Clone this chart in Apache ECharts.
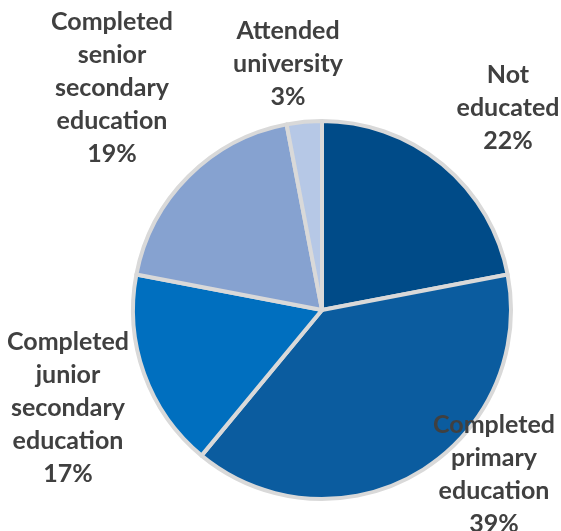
<!DOCTYPE html>
<html>
<head>
<meta charset="utf-8">
<script src="https://cdn.jsdelivr.net/npm/echarts@6/dist/echarts.min.js"></script>
<style>
  html, body { margin: 0; padding: 0; background: #fff; }
  #chart { width: 561px; height: 531px; }
</style>
</head>
<body>
<div id="chart"></div>
<script>
// Education attainment shares, clockwise from 12 o'clock
const categories = [
  'Not\neducated',
  'Completed\nprimary\neducation',
  'Completed\njunior\nsecondary\neducation',
  'Completed\nsenior\nsecondary\neducation',
  'Attended\nuniversity'
];
const shares = [22, 39, 17, 19, 3];
const sliceColors = ['#004b88', '#0b5c9f', '#006fbf', '#86a2d0', '#b6c8e6'];

// Label block centres (px) for each slice, same order as categories
const labelAnchors = [
  [508, 108],
  [494, 474],
  [68, 408],
  [112, 88],
  [288, 64]
];

const chart = echarts.init(document.getElementById('chart'), null, { renderer: 'canvas' });
chart.setOption({
  animation: false,
  series: [{
    type: 'pie',
    center: [322, 310],
    radius: 189,
    startAngle: 90,
    clockwise: true,
    data: categories.map((name, i) => ({
      name: name,
      value: shares[i],
      itemStyle: { color: sliceColors[i] }
    })),
    itemStyle: { borderColor: '#d9d9d9', borderWidth: 4 },
    label: {
      show: true,
      position: 'outside',
      formatter: '{b}\n{d}%',
      color: '#404040',
      fontFamily: 'Lato',
      fontWeight: 'bold',
      fontSize: 25,
      lineHeight: 33,
      align: 'center',
      overflow: 'none',
      width: 200
    },
    labelLine: { show: false },
    labelLayout: function (params) {
      const a = labelAnchors[params.dataIndex];
      return { x: a[0], y: a[1], align: 'center', verticalAlign: 'middle' };
    },
    emphasis: { disabled: true }
  }]
});
</script>
</body>
</html>
